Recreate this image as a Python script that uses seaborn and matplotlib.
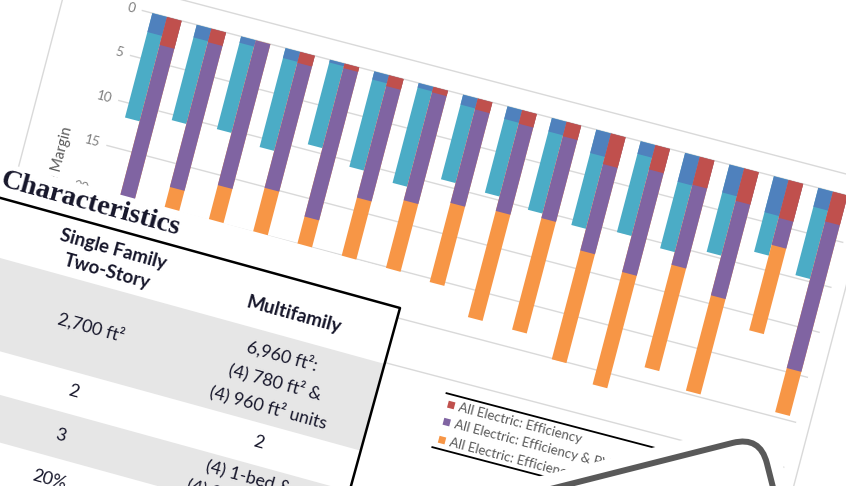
import numpy as np
import pandas as pd
import seaborn as sns
import matplotlib.pyplot as plt
from matplotlib.transforms import Affine2D
from matplotlib.patches import Rectangle, FancyBboxPatch

# ---- data (compliance margin, %) ----
zones = ["CZ%02d" % i for i in range(1, 17)]
fuel_types = ["Mixed Fuel", "All Electric"]

mf_efficiency = [2.1, 1.4, 0.7, 1.1, 0.3, 0.9, 0.5, 1.1, 1.4, 1.5, 2.6, 1.4, 3.2, 3.1, 4.0, 2.1]
mf_pv = [9.5, 9.2, 9.6, 9.9, 9.1, 9.7, 10.6, 8.3, 8.2, 8.7, 8.0, 8.7, 7.4, 6.6, 4.4, 7.6]
ae_efficiency = [3.1, 1.5, 0.0, 1.2, 0.5, 1.2, 0.6, 1.2, 1.5, 1.6, 3.4, 2.7, 3.1, 3.6, 4.2, 3.3]
ae_pv = [16.9, 16.1, 16.1, 13.9, 16.5, 12.4, 12.0, 10.4, 9.7, 9.1, 9.6, 11.4, 8.9, 10.5, 3.0, 16.3]
ae_battery = [0.0, 2.5, 4.1, 5.0, 3.3, 6.6, 7.7, 8.8, 11.8, 12.4, 12.1, 12.5, 11.4, 10.6, 9.5, 4.9]

margin_ticks = [0, 5, 10, 15, 20, 25, 30]
legend_labels = ["All Electric: Efficiency",
                 "All Electric: Efficiency & PV",
                 "All Electric: Efficiency & PV + Battery"]

table_title = "Characteristics"
table_header = ["Single Family\nTwo-Story", "Multifamily"]
single_family = ["2,700 ft²", "2", "3", "20%"]
multifamily = ["6,960 ft²:\n(4) 780 ft² &\n(4) 960 ft² units", "2", "(4) 1-bed &\n(4) 2-bed units", "20%"]

BLUE, TEAL, RED, PURPLE, ORANGE = "#4f81bd", "#4bacc6", "#c0504d", "#8064a2", "#f79646"

sns.set_theme(style="white")
plt.rcParams["font.family"] = ["Lato", "DejaVu Sans"]

fig = plt.figure(figsize=(8.46, 4.86), dpi=100)
ax = fig.add_axes([0, 0, 1, 1])

mf_e, mf_p = np.array(mf_efficiency), np.array(mf_pv)
ae_e, ae_p, ae_b = np.array(ae_efficiency), np.array(ae_pv), np.array(ae_battery)

# stacked bars drawn as overlapping cumulative layers
layers = [
    (mf_e + mf_p, ae_e + ae_p + ae_b, TEAL, ORANGE),
    (mf_e, ae_e + ae_p, BLUE, PURPLE),
    (np.zeros(len(zones)), ae_e, BLUE, RED),
]
for left, right, c_left, c_right in layers:
    df = pd.DataFrame({"zone": zones * 2,
                       "fuel": np.repeat(fuel_types, len(zones)),
                       "margin": np.concatenate([left, right])})
    sns.barplot(data=df, x="zone", y="margin", hue="fuel", hue_order=fuel_types,
                palette={"Mixed Fuel": c_left, "All Electric": c_right},
                width=0.66, saturation=1, errorbar=None, linewidth=0,
                legend=False, ax=ax)

# the chart sits tilted on the page: map (category, margin) onto rotated pixels
chart_tr = Affine2D().scale(45.9, 9.3).rotate_deg(14.7).translate(167, 17) + ax.transData
for bar in ax.patches:
    bar.set_transform(chart_tr)
    bar.set_zorder(2)

ax.hlines(margin_ticks, -0.57, 15.5, colors="#d9d9d9", linewidth=1.0,
          transform=chart_tr, zorder=1)
ax.hlines(-2.2, -2.3, 15.8, colors="#d9d9d9", linewidth=1.0, transform=chart_tr, zorder=1)
ax.vlines([-2.3, 15.8], -2.2, 48, colors="#d9d9d9", linewidth=1.0, transform=chart_tr, zorder=1)

for m in margin_ticks:
    ax.text(-0.72, m, str(m), transform=chart_tr, rotation=-14.7, rotation_mode="anchor",
            ha="right", va="center", fontsize=9.5, color="#7f7f7f", zorder=3)
ax.text(-1.49, 14.1, "Compliance Margin", transform=chart_tr, rotation=75.3,
        rotation_mode="anchor", ha="right", va="center", fontsize=10.5, color="#595959", zorder=3)

# legend (only the All Electric entries are visible)
ax.hlines([31.5, 37.5], 7.95, 13.5, colors="black", linewidth=1.3, transform=chart_tr, zorder=3)
for lab, col, row in zip(legend_labels, [RED, PURPLE, ORANGE], [32.6, 34.5, 36.5]):
    ax.add_patch(Rectangle((8.06, row - 0.38), 0.15, 0.76, facecolor=col, edgecolor="none",
                           transform=chart_tr, zorder=3))
    ax.text(8.3, row, lab, transform=chart_tr, rotation=-14.7, rotation_mode="anchor",
            ha="left", va="center", fontsize=9.6, color="#595959", zorder=3)

# characteristics table pasted over the lower left
table_tr = Affine2D().rotate_deg(15.4).translate(400, 308) + ax.transData
ax.add_patch(Rectangle((-470, -35), 470, 400, facecolor="white", edgecolor="none",
                       transform=table_tr, zorder=5))
for t0, h in [(58, 90), (190, 46)]:
    ax.add_patch(Rectangle((-470, t0), 470, h, facecolor="#e6e6e6", edgecolor="none",
                           transform=table_tr, zorder=5.1))
ax.plot([-470, 0, 0], [0, 0, 400], color="black", linewidth=1.8, transform=table_tr, zorder=6)

txt = dict(transform=table_tr, rotation=-15.4, rotation_mode="anchor", ha="center",
           va="center", color="#16162a", zorder=7)
ax.text(-326, -18, table_title, fontsize=20.5, fontweight="bold",
        family=["Liberation Serif", "DejaVu Serif"], **txt)
ax.text(-292, 31, table_header[0], fontsize=13.5, fontweight="bold", linespacing=1.4, **txt)
ax.text(-100, 35, table_header[1], fontsize=13.8, fontweight="bold", **txt)
for sf, mf, row in zip(single_family, multifamily, [101, 167, 213, 259]):
    ax.text(-293, row, sf, fontsize=12.8, **txt)
    ax.text(-101, row + (3 if "\n" in mf else 0), mf, fontsize=12.8, linespacing=1.6, **txt)

# rounded callout box in the bottom right corner
call_tr = Affine2D().rotate_deg(-14.2).translate(760, 436) + ax.transData
ax.add_patch(FancyBboxPatch((-615, -15), 630, 320, boxstyle="round,pad=0,rounding_size=40",
                            facecolor="white", edgecolor="none", transform=call_tr, zorder=9))
ax.add_patch(FancyBboxPatch((-600, 0), 600, 300, boxstyle="round,pad=0,rounding_size=28",
                            facecolor="white", edgecolor="#595959", linewidth=4.3,
                            transform=call_tr, zorder=10))

ax.set_xlim(0, 846)
ax.set_ylim(486, 0)
ax.axis("off")

fig.savefig("out.png", dpi=100, facecolor="white")
